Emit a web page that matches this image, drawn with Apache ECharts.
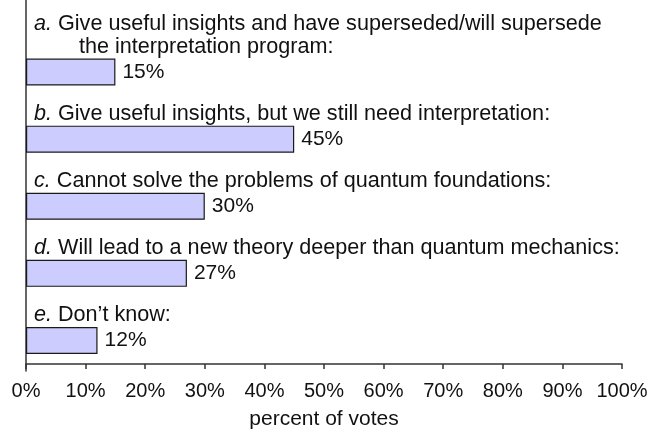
<!DOCTYPE html>
<html>
<head>
<meta charset="utf-8">
<script src="https://cdn.jsdelivr.net/npm/echarts@6/dist/echarts.min.js"></script>
<style>
  html, body { margin: 0; padding: 0; background: #fff; }
  #chart { width: 663px; height: 435px; }
</style>
</head>
<body>
<div id="chart"></div>
<script>
// poll answers, top to bottom
const letters = ['a.', 'b.', 'c.', 'd.', 'e.'];
const answers = [
    'Give useful insights and have superseded/will supersede\nthe interpretation program:',
    'Give useful insights, but we still need interpretation:',
    'Cannot solve the problems of quantum foundations:',
    'Will lead to a new theory deeper than quantum mechanics:',
    'Don\u2019t know:'
];
const votes = [15, 45, 30, 27, 12];

const FONT = '"Liberation Sans", Arial, sans-serif';

const chart = echarts.init(document.getElementById('chart'), null, { renderer: 'canvas' });

// helper series that only carries the answer text above each bar
const textRows = letters.map((l) => ({ value: 0, name: l }));

const option = {
    animation: false,
    grid: [
        { left: 26, right: 41, top: 28.5, bottom: 64 },
        // only used to draw the full-height left axis line
        { left: 26, right: 41, top: 0, bottom: 64 }
    ],
    xAxis: [
        {
            type: 'value',
            gridIndex: 0,
            min: 0,
            max: 100,
            interval: 10,
            name: 'percent of votes',
            nameLocation: 'middle',
            nameGap: 45,
            nameTextStyle: { fontFamily: FONT, fontSize: 21, color: '#111' },
            axisLine: { show: true, lineStyle: { color: '#333', width: 1.5 } },
            axisTick: { show: true, length: 5, lineStyle: { color: '#333', width: 1.5 } },
            axisLabel: {
                formatter: '{value}%',
                fontFamily: FONT,
                fontSize: 20,
                color: '#111',
                margin: 17
            },
            splitLine: { show: false }
        },
        { type: 'value', gridIndex: 1, show: false }
    ],
    yAxis: [
        {
            type: 'category',
            gridIndex: 0,
            inverse: true,
            data: letters,
            axisLine: { show: false },
            axisTick: { show: false },
            axisLabel: { show: false }
        },
        {
            type: 'value',
            gridIndex: 1,
            axisLine: { show: true, lineStyle: { color: '#333', width: 1.5 } },
            axisTick: { show: false },
            axisLabel: { show: false },
            splitLine: { show: false }
        }
    ],
    series: [
        {
            name: 'text',
            type: 'bar',
            silent: true,
            barWidth: 20,
            barGap: 0,
            itemStyle: { color: 'transparent' },
            label: {
                show: true,
                position: [8, 20],
                align: 'left',
                verticalAlign: 'bottom',
                fontFamily: FONT,
                fontSize: 21.6,
                lineHeight: 23,
                color: '#111',
                formatter: (p) => {
                    const txt = answers[p.dataIndex].replace('\n', '\n{sp| }');
                    return '{it|' + letters[p.dataIndex] + '} ' + txt;
                },
                rich: {
                    it: { fontStyle: 'italic', fontFamily: FONT, fontSize: 21.6, color: '#111' },
                    sp: { width: 45, fontFamily: FONT, fontSize: 21.6 }
                }
            },
            data: textRows
        },
        {
            name: 'votes',
            type: 'bar',
            barWidth: 27,
            itemStyle: { color: '#ccccff', borderColor: '#1a1a1a', borderWidth: 1.2 },
            label: {
                show: true,
                position: 'right',
                distance: 7,
                formatter: '{c}%',
                fontFamily: FONT,
                fontSize: 21,
                color: '#111'
            },
            data: votes
        }
    ]
};

chart.setOption(option);
</script>
</body>
</html>
